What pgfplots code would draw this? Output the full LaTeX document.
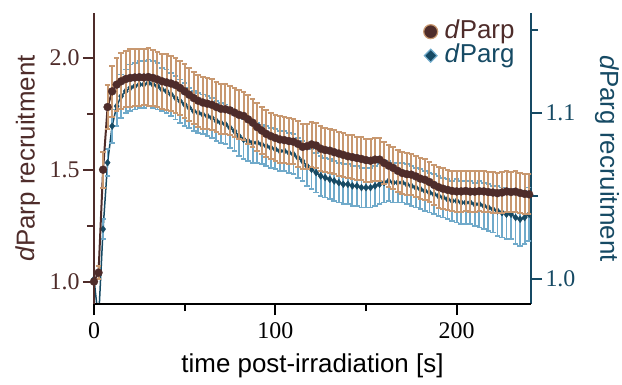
\documentclass[border=0pt]{standalone}
\usepackage{fontspec}
\setmainfont{Liberation Serif}
\newfontfamily\sans{Liberation Sans}
\usepackage{pgfplots}
\usepackage{pgfplotstable}
\pgfplotsset{compat=1.18}
\definecolor{parpdark}{RGB}{78,44,42}
\definecolor{parptan}{RGB}{200,152,112}
\definecolor{pargdark}{RGB}{22,74,100}
\definecolor{parglight}{RGB}{112,170,202}

\pgfplotstableread{
t p pe
0 1.000 0.000
2.5 1.040 0.030
5 1.500 0.080
7.5 1.780 0.100
10 1.850 0.115
12.5 1.880 0.120
15 1.895 0.125
17.5 1.905 0.125
20 1.910 0.128
22.5 1.912 0.126
25 1.913 0.127
27.5 1.912 0.125
30 1.914 0.128
32.5 1.910 0.126
35 1.903 0.125
37.5 1.895 0.124
40 1.890 0.125
42.5 1.885 0.122
45 1.878 0.123
47.5 1.865 0.120
50 1.850 0.121
52.5 1.835 0.119
55 1.820 0.118
57.5 1.808 0.117
60 1.800 0.116
62.5 1.795 0.115
65 1.790 0.114
67.5 1.780 0.113
70 1.772 0.113
72.5 1.770 0.112
75 1.765 0.111
77.5 1.755 0.110
80 1.745 0.110
82.5 1.740 0.108
85 1.725 0.108
87.5 1.710 0.107
90 1.690 0.106
92.5 1.675 0.105
95 1.660 0.105
97.5 1.650 0.104
100 1.642 0.103
102.5 1.635 0.103
105 1.632 0.102
107.5 1.628 0.102
110 1.625 0.101
112.5 1.615 0.101
115 1.602 0.100
117.5 1.605 0.100
120 1.613 0.100
122.5 1.608 0.099
125 1.594 0.099
127.5 1.588 0.099
130 1.585 0.098
132.5 1.578 0.098
135 1.572 0.098
137.5 1.566 0.097
140 1.560 0.097
142.5 1.556 0.097
145 1.552 0.096
147.5 1.548 0.096
150 1.543 0.096
152.5 1.540 0.095
155 1.545 0.095
157.5 1.545 0.095
160 1.530 0.094
162.5 1.518 0.094
165 1.508 0.094
167.5 1.495 0.093
170 1.485 0.093
172.5 1.480 0.093
175 1.478 0.092
177.5 1.470 0.092
180 1.460 0.092
182.5 1.455 0.092
185 1.445 0.091
187.5 1.432 0.091
190 1.422 0.091
192.5 1.415 0.091
195 1.410 0.090
197.5 1.405 0.090
200 1.403 0.090
202.5 1.403 0.090
205 1.405 0.090
207.5 1.402 0.090
210 1.402 0.090
212.5 1.404 0.090
215 1.403 0.090
217.5 1.400 0.090
220 1.398 0.090
222.5 1.395 0.090
225 1.398 0.090
227.5 1.403 0.090
230 1.400 0.090
232.5 1.402 0.090
235 1.396 0.090
237.5 1.392 0.090
240 1.390 0.090
}\parp

\pgfplotstableread{
t g ge
0 1.000 0.000
2.5 0.975 0.004
5 1.030 0.006
7.5 1.070 0.008
10 1.092 0.010
12.5 1.104 0.012
15 1.110 0.013
17.5 1.113 0.013
20 1.115 0.014
22.5 1.116 0.014
25 1.117 0.014
27.5 1.117 0.014
30 1.118 0.014
32.5 1.117 0.014
35 1.116 0.014
37.5 1.114 0.013
40 1.113 0.013
42.5 1.111 0.013
45 1.109 0.013
47.5 1.107 0.013
50 1.105 0.013
52.5 1.103 0.012
55 1.101 0.012
57.5 1.100 0.012
60 1.099 0.012
62.5 1.098 0.012
65 1.097 0.012
67.5 1.095 0.012
70 1.094 0.012
72.5 1.093 0.012
75 1.091 0.012
77.5 1.089 0.012
80 1.086 0.012
82.5 1.084 0.012
85 1.083 0.012
87.5 1.082 0.012
90 1.082 0.012
92.5 1.081 0.012
95 1.080 0.012
97.5 1.079 0.012
100 1.078 0.012
102.5 1.077 0.012
105 1.077 0.012
107.5 1.076 0.012
110 1.075 0.012
112.5 1.073 0.012
115 1.071 0.012
117.5 1.068 0.012
120 1.066 0.012
122.5 1.064 0.012
125 1.062 0.012
127.5 1.061 0.012
130 1.060 0.012
132.5 1.059 0.012
135 1.058 0.012
137.5 1.057 0.012
140 1.057 0.012
142.5 1.056 0.012
145 1.056 0.012
147.5 1.055 0.012
150 1.055 0.012
152.5 1.055 0.012
155 1.056 0.012
157.5 1.057 0.012
160 1.058 0.012
162.5 1.059 0.012
165 1.058 0.012
167.5 1.058 0.012
170 1.058 0.012
172.5 1.057 0.012
175 1.056 0.012
177.5 1.055 0.012
180 1.054 0.012
182.5 1.053 0.012
185 1.052 0.012
187.5 1.051 0.012
190 1.050 0.012
192.5 1.049 0.012
195 1.048 0.012
197.5 1.047 0.012
200 1.047 0.013
202.5 1.046 0.013
205 1.046 0.013
207.5 1.046 0.013
210 1.045 0.013
212.5 1.045 0.014
215 1.044 0.014
217.5 1.043 0.014
220 1.042 0.014
222.5 1.041 0.015
225 1.040 0.015
227.5 1.039 0.015
230 1.039 0.015
232.5 1.037 0.016
235 1.036 0.016
237.5 1.037 0.016
240 1.039 0.016
}\parg

\pgfplotsset{
  basestyle/.style={
    scale only axis, width=437bp, height=291bp,
    xmin=0, xmax=241,
    /pgf/number format/assume math mode=true,
    tick label style={font=\fontsize{24}{24}\selectfont},
    label style={font=\sans\fontsize{26}{26}\selectfont},
    tick align=outside,
    major tick length=11bp, minor tick length=7bp,
    tick style={line width=2bp},
    yticklabel style={/pgf/number format/fixed, /pgf/number format/fixed zerofill, /pgf/number format/precision=1},
  }
}

\begin{document}
\begin{tikzpicture}
% right axis: dParg
\begin{axis}[basestyle,
  axis x line=none,
  axis y line*=right,
  ymin=0.985, ymax=1.16,
  ytick={1.0,1.1}, minor ytick={1.05,1.15},
  y axis line style={pargdark, line width=2.5bp, -},
  ytick style={pargdark},
  yticklabel style={text=pargdark},
  ylabel={\textit{d}Parg recruitment},
  ylabel style={text=pargdark, at={(axis description cs:1.174,0.5)}, anchor=center, rotate=180},
]
\addplot[pargdark, line width=1.5bp, mark=diamond*, mark size=3.5bp,
  mark options={fill=pargdark, draw=pargdark, line width=0.3bp},
  error bars/.cd, y dir=both, y explicit,
  error bar style={parglight, line width=1.8bp},
  error mark options={rotate=90, parglight, mark size=2.8bp, line width=1.8bp}]
  table[x=t, y=g, y error=ge] {\parg};
\end{axis}
% left axis: dParp
\begin{axis}[basestyle,
  axis x line*=bottom,
  axis y line*=left,
  clip mode=individual,
  ymin=0.9, ymax=2.2,
  xtick={0,100,200}, minor xtick={50,150},
  ytick={1.0,1.5,2.0}, minor ytick={1.25,1.75},
  x axis line style={black, line width=2.5bp, -},
  y axis line style={parpdark, line width=2.5bp, -},
  xtick style={black},
  ytick style={parpdark},
  xticklabel style={yshift=-4bp},
  yticklabel style={text=parpdark},
  xlabel={time post-irradiation [s]},
  xlabel style={text=black, at={(axis description cs:0.5,-0.237)}, anchor=base},
  ylabel={\textit{d}Parp recruitment},
  ylabel style={text=parpdark, at={(axis description cs:-0.151,0.5)}, anchor=center},
  legend style={draw=none, fill=none, at={(axis description cs:0.754,0.976)}, anchor=north west,
    font=\sans\fontsize{26}{26}\selectfont, inner sep=0pt,
    nodes={inner sep=0pt, text height=18bp, text depth=5bp},
    row sep=1bp, column sep=7bp},
  legend cell align=left,
]
\addplot[forget plot, parpdark, line width=2bp, mark=*, mark size=4bp,
  mark options={fill=parpdark, draw=parpdark, line width=0.3bp},
  error bars/.cd, y dir=both, y explicit,
  error bar style={parptan, line width=2bp},
  error mark options={rotate=90, parptan, mark size=2.8bp, line width=2bp}]
  table[x=t, y=p, y error=pe] {\parp};
\addlegendimage{only marks, mark=*, mark size=7bp, mark options={fill=parpdark, draw=parptan, line width=1.2bp}}
\addlegendentry{\textcolor{parpdark}{\textit{d}Parp}}
\addlegendimage{only marks, mark=diamond*, mark size=6.5bp, mark options={fill=pargdark, draw=parglight, line width=1.2bp, xscale=1.3}}
\addlegendentry{\textcolor{pargdark}{\textit{d}Parg}}
\end{axis}
\pgfresetboundingbox
\path[use as bounding box] (-94bp,-81bp) rectangle (528bp,304bp);
\end{tikzpicture}
\end{document}
